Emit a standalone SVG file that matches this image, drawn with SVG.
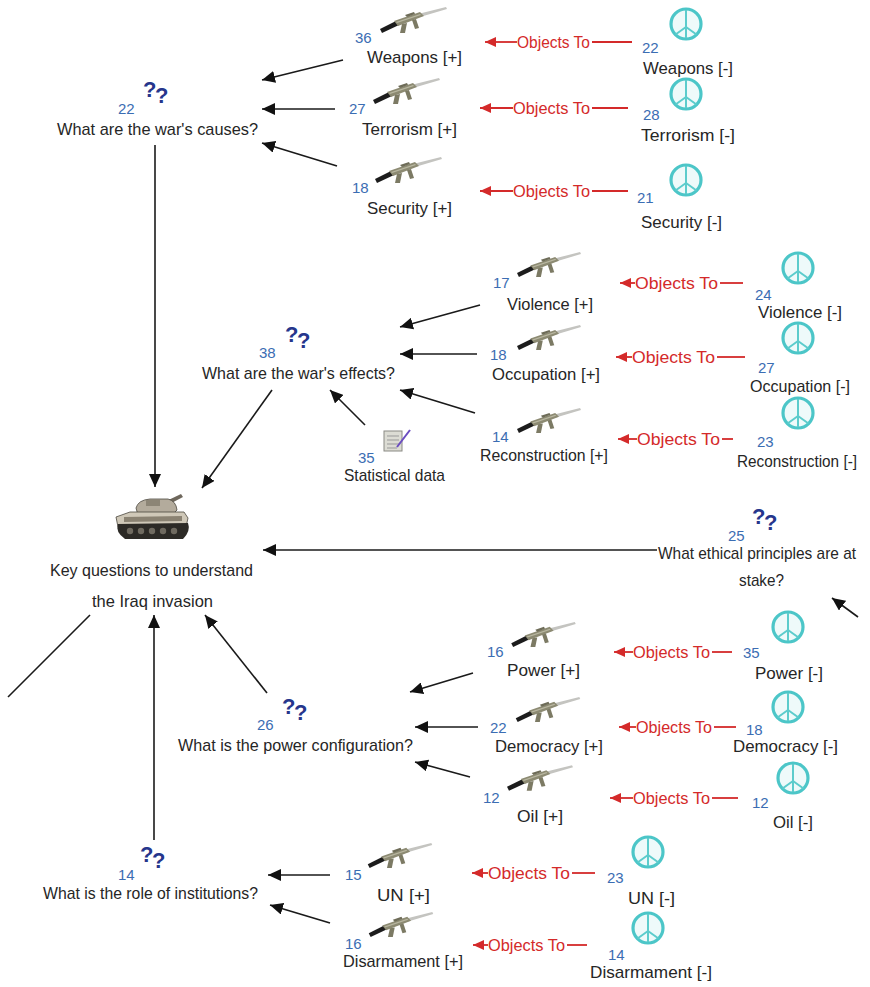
<svg xmlns="http://www.w3.org/2000/svg" xmlns:xlink="http://www.w3.org/1999/xlink" width="870" height="987" viewBox="0 0 870 987">
<style>
  text { font-family: "Liberation Sans", Arial, "DejaVu Sans", sans-serif; }
  .lbl { font-size: 17px; fill: #262626; }
  .num { font-size: 15px; fill: #3b6db3; }
  .obj { font-size: 17px; fill: #d42a2a; }
  .qq  { font-size: 22px; font-weight: bold; fill: #26368c; }
  .ln  { stroke: #1a1a1a; stroke-width: 1.6; fill: none; }
  .rl  { stroke: #d42a2a; stroke-width: 1.8; fill: none; }
</style>
<defs>
  <marker id="ah" markerUnits="userSpaceOnUse" markerWidth="14" markerHeight="12" refX="13" refY="6" orient="auto">
    <path d="M0,0 L13,6 L0,12 z" fill="#111"/>
  </marker>
  <marker id="ahr" markerUnits="userSpaceOnUse" markerWidth="12" markerHeight="10" refX="11" refY="5" orient="auto">
    <path d="M0,0 L11,5 L0,10 z" fill="#d42a2a"/>
  </marker>
  <!-- rifle icon, 67 x 27 -->
  <symbol id="gun" viewBox="0 0 67 27" overflow="visible">
    <polygon points="38,7 66,0 67,2 40,10" fill="#c4c4c0"/>
    <polygon points="0,22 16,14 19,18 2,26" fill="#1c1c1c"/>
    <polygon points="14,14 40,5 44,9 18,19" fill="#8c8a72"/>
    <polygon points="25,8 34,5 35,7 27,10" fill="#6e6c58"/>
    <polygon points="22,17 20,26 25,26 27,16" fill="#7c7a64"/>
    <polygon points="32,13 35,22 39,21 36,12" fill="#7c7a64"/>
    <polygon points="16,15 40,7 41,8 17,16" fill="#b8b6a0"/>
  </symbol>
  <!-- peace sign icon -->
  <symbol id="peace" viewBox="-18 -18 36 36" overflow="visible">
    <circle r="15" fill="#eefafa" stroke="#4cc6c8" stroke-width="3.2"/>
    <g stroke="#5ccccc" stroke-width="2">
      <line x1="0" y1="-14" x2="0" y2="14"/>
      <line x1="0" y1="3" x2="-10.5" y2="10.5"/>
      <line x1="0" y1="3" x2="10.5" y2="10.5"/>
    </g>
  </symbol>
  <!-- double question mark -->
  <symbol id="qmarks" viewBox="0 0 30 26" overflow="visible">
    <text class="qq" x="0" y="17">?</text>
    <text class="qq" x="12" y="23">?</text>
  </symbol>
</defs>

<!-- connectors -->
<g id="connectors">
  <line class="ln" x1="343" y1="60" x2="262" y2="80" marker-end="url(#ah)"/>
  <line class="ln" x1="335" y1="109" x2="262" y2="109" marker-end="url(#ah)"/>
  <line class="ln" x1="337" y1="166" x2="262" y2="143" marker-end="url(#ah)"/>
  <line class="ln" x1="155" y1="145" x2="155" y2="487" marker-end="url(#ah)"/>
  <line class="ln" x1="480" y1="305" x2="400" y2="327" marker-end="url(#ah)"/>
  <line class="ln" x1="477" y1="354" x2="400" y2="354" marker-end="url(#ah)"/>
  <line class="ln" x1="475" y1="413" x2="400" y2="390" marker-end="url(#ah)"/>
  <line class="ln" x1="365" y1="425" x2="330" y2="390" marker-end="url(#ah)"/>
  <line class="ln" x1="272" y1="390" x2="202" y2="488" marker-end="url(#ah)"/>
  <line class="ln" x1="657" y1="550" x2="263" y2="550" marker-end="url(#ah)"/>
  <line class="ln" x1="858" y1="617" x2="832" y2="598" marker-end="url(#ah)"/>
  <line class="ln" x1="90" y1="615" x2="8" y2="697"/>
  <line class="ln" x1="154" y1="840" x2="154" y2="615" marker-end="url(#ah)"/>
  <line class="ln" x1="267" y1="693" x2="205" y2="615" marker-end="url(#ah)"/>
  <line class="ln" x1="473" y1="673" x2="410" y2="692" marker-end="url(#ah)"/>
  <line class="ln" x1="478" y1="727" x2="415" y2="727" marker-end="url(#ah)"/>
  <line class="ln" x1="470" y1="777" x2="415" y2="762" marker-end="url(#ah)"/>
  <line class="ln" x1="330" y1="875" x2="268" y2="875" marker-end="url(#ah)"/>
  <line class="ln" x1="330" y1="923" x2="270" y2="905" marker-end="url(#ah)"/>

  <!-- "Objects To" links -->
  <g id="obj-weapons">
    <line class="rl" x1="517" y1="42" x2="485" y2="42" marker-end="url(#ahr)"/>
    <text class="obj" x="517" y="48" textLength="73" lengthAdjust="spacingAndGlyphs">Objects To</text>
    <line class="rl" x1="592" y1="42" x2="632" y2="42"/>
  </g>
  <g id="obj-terrorism">
    <line class="rl" x1="513" y1="108" x2="480" y2="108" marker-end="url(#ahr)"/>
    <text class="obj" x="513" y="114" textLength="77" lengthAdjust="spacingAndGlyphs">Objects To</text>
    <line class="rl" x1="592" y1="108" x2="628" y2="108"/>
  </g>
  <g id="obj-security">
    <line class="rl" x1="513" y1="191" x2="480" y2="191" marker-end="url(#ahr)"/>
    <text class="obj" x="513" y="197" textLength="77" lengthAdjust="spacingAndGlyphs">Objects To</text>
    <line class="rl" x1="592" y1="191" x2="628" y2="191"/>
  </g>
  <g id="obj-violence">
    <line class="rl" x1="635" y1="283" x2="620" y2="283" marker-end="url(#ahr)"/>
    <text class="obj" x="635" y="289" textLength="83" lengthAdjust="spacingAndGlyphs">Objects To</text>
    <line class="rl" x1="720" y1="283" x2="743" y2="283"/>
  </g>
  <g id="obj-occupation">
    <line class="rl" x1="632" y1="357" x2="616" y2="357" marker-end="url(#ahr)"/>
    <text class="obj" x="632" y="363" textLength="83" lengthAdjust="spacingAndGlyphs">Objects To</text>
    <line class="rl" x1="717" y1="357" x2="745" y2="357"/>
  </g>
  <g id="obj-reconstruction">
    <line class="rl" x1="637" y1="439" x2="618" y2="439" marker-end="url(#ahr)"/>
    <text class="obj" x="637" y="445" textLength="83" lengthAdjust="spacingAndGlyphs">Objects To</text>
    <line class="rl" x1="722" y1="439" x2="733" y2="439"/>
  </g>
  <g id="obj-power">
    <line class="rl" x1="633" y1="652" x2="614" y2="652" marker-end="url(#ahr)"/>
    <text class="obj" x="633" y="658" textLength="77" lengthAdjust="spacingAndGlyphs">Objects To</text>
    <line class="rl" x1="712" y1="652" x2="732" y2="652"/>
  </g>
  <g id="obj-democracy">
    <line class="rl" x1="636" y1="727" x2="619" y2="727" marker-end="url(#ahr)"/>
    <text class="obj" x="636" y="733" textLength="76" lengthAdjust="spacingAndGlyphs">Objects To</text>
    <line class="rl" x1="714" y1="727" x2="736" y2="727"/>
  </g>
  <g id="obj-oil">
    <line class="rl" x1="633" y1="798" x2="610" y2="798" marker-end="url(#ahr)"/>
    <text class="obj" x="633" y="804" textLength="77" lengthAdjust="spacingAndGlyphs">Objects To</text>
    <line class="rl" x1="712" y1="798" x2="738" y2="798"/>
  </g>
  <g id="obj-un">
    <line class="rl" x1="488" y1="873" x2="472" y2="873" marker-end="url(#ahr)"/>
    <text class="obj" x="488" y="879" textLength="82" lengthAdjust="spacingAndGlyphs">Objects To</text>
    <line class="rl" x1="572" y1="873" x2="595" y2="873"/>
  </g>
  <g id="obj-disarmament">
    <line class="rl" x1="488" y1="945" x2="473" y2="945" marker-end="url(#ahr)"/>
    <text class="obj" x="488" y="951" textLength="77" lengthAdjust="spacingAndGlyphs">Objects To</text>
    <line class="rl" x1="567" y1="945" x2="587" y2="945"/>
  </g>
</g>

<!-- question nodes -->
<g id="q-causes">
  <use href="#qmarks" x="143" y="80" width="30" height="26"/>
  <text class="num" x="118" y="114">22</text>
  <text class="lbl" x="57" y="135" textLength="201" lengthAdjust="spacingAndGlyphs">What are the war's causes?</text>
</g>
<g id="q-effects">
  <use href="#qmarks" x="285" y="325" width="30" height="26"/>
  <text class="num" x="259" y="358">38</text>
  <text class="lbl" x="202" y="379" textLength="193" lengthAdjust="spacingAndGlyphs">What are the war's effects?</text>
</g>
<g id="q-ethics">
  <use href="#qmarks" x="752" y="507" width="30" height="26"/>
  <text class="num" x="728" y="541">25</text>
  <text class="lbl" x="658" y="559" textLength="198" lengthAdjust="spacingAndGlyphs">What ethical principles are at</text>
  <text class="lbl" x="739" y="586" textLength="45" lengthAdjust="spacingAndGlyphs">stake?</text>
</g>
<g id="q-power">
  <use href="#qmarks" x="282" y="697" width="30" height="26"/>
  <text class="num" x="257" y="730">26</text>
  <text class="lbl" x="178" y="751" textLength="235" lengthAdjust="spacingAndGlyphs">What is the power configuration?</text>
</g>
<g id="q-institutions">
  <use href="#qmarks" x="140" y="845" width="30" height="26"/>
  <text class="num" x="118" y="880">14</text>
  <text class="lbl" x="43" y="899" textLength="215" lengthAdjust="spacingAndGlyphs">What is the role of institutions?</text>
</g>

<!-- central node -->
<g id="main">
  <g id="tank">
    <path d="M158,505 L181,494 L183,497 L162,508 z" fill="#6e675c"/>
    <path d="M136,508 Q138,500 150,499 L168,499 Q176,501 177,510 L172,515 L138,515 z" fill="#b3ab9c" stroke="#4a463e" stroke-width="0.8"/>
    <rect x="146" y="500" width="14" height="6" fill="#8c8576"/>
    <path d="M116,517 L130,512 L184,512 L188,518 L186,527 L118,527 z" fill="#cfc8b8" stroke="#4a463e" stroke-width="0.8"/>
    <path d="M124,517 L182,516 L182,521 L124,522 z" fill="#8a8272"/>
    <path d="M118,524 L188,523 Q191,531 183,539 L125,539 Q115,532 118,524 z" fill="#2c2a26"/>
    <g fill="#6f6a60">
      <circle cx="130" cy="531" r="3.2"/><circle cx="141" cy="531" r="3.2"/><circle cx="152" cy="531" r="3.2"/>
      <circle cx="163" cy="531" r="3.2"/><circle cx="174" cy="531" r="3.2"/>
    </g>
  </g>
  <text class="lbl" x="50" y="576" textLength="203" lengthAdjust="spacingAndGlyphs">Key questions to understand</text>
  <text class="lbl" x="92" y="607" textLength="121" lengthAdjust="spacingAndGlyphs">the Iraq invasion</text>
</g>

<!-- evidence node -->
<g id="stat-data">
  <rect x="384" y="431" width="18" height="20" fill="#dcdcd4" stroke="#8a8a84" stroke-width="1"/>
  <g stroke="#999" stroke-width="1">
    <line x1="387" y1="436" x2="399" y2="436"/><line x1="387" y1="440" x2="399" y2="440"/>
    <line x1="387" y1="444" x2="399" y2="444"/><line x1="387" y1="448" x2="397" y2="448"/>
  </g>
  <line x1="397" y1="447" x2="410" y2="430" stroke="#6a4cc0" stroke-width="2"/>
  <text class="num" x="358" y="463">35</text>
  <text class="lbl" x="344" y="481" textLength="101" lengthAdjust="spacingAndGlyphs">Statistical data</text>
</g>

<!-- pro arguments -->
<g id="pro-weapons">
  <use href="#gun" x="380" y="7" width="67" height="27"/>
  <text class="num" x="355" y="43">36</text>
  <text class="lbl" x="367" y="63" textLength="95" lengthAdjust="spacingAndGlyphs">Weapons [+]</text>
</g>
<g id="pro-terrorism">
  <use href="#gun" x="373" y="78" width="67" height="27"/>
  <text class="num" x="349" y="114">27</text>
  <text class="lbl" x="362" y="135" textLength="95" lengthAdjust="spacingAndGlyphs">Terrorism [+]</text>
</g>
<g id="pro-security">
  <use href="#gun" x="375" y="157" width="67" height="27"/>
  <text class="num" x="352" y="193">18</text>
  <text class="lbl" x="367" y="214" textLength="85" lengthAdjust="spacingAndGlyphs">Security [+]</text>
</g>
<g id="pro-violence">
  <use href="#gun" x="517" y="252" width="64" height="26"/>
  <text class="num" x="493" y="288">17</text>
  <text class="lbl" x="507" y="310" textLength="86" lengthAdjust="spacingAndGlyphs">Violence [+]</text>
</g>
<g id="pro-occupation">
  <use href="#gun" x="517" y="325" width="64" height="26"/>
  <text class="num" x="490" y="360">18</text>
  <text class="lbl" x="492" y="380" textLength="108" lengthAdjust="spacingAndGlyphs">Occupation [+]</text>
</g>
<g id="pro-reconstruction">
  <use href="#gun" x="517" y="408" width="64" height="26"/>
  <text class="num" x="492" y="442">14</text>
  <text class="lbl" x="480" y="461" textLength="128" lengthAdjust="spacingAndGlyphs">Reconstruction [+]</text>
</g>
<g id="pro-power">
  <use href="#gun" x="510" y="622" width="67" height="26"/>
  <text class="num" x="487" y="657">16</text>
  <text class="lbl" x="507" y="676" textLength="73" lengthAdjust="spacingAndGlyphs">Power [+]</text>
</g>
<g id="pro-democracy">
  <use href="#gun" x="515" y="697" width="66" height="26"/>
  <text class="num" x="490" y="733">22</text>
  <text class="lbl" x="495" y="752" textLength="108" lengthAdjust="spacingAndGlyphs">Democracy [+]</text>
</g>
<g id="pro-oil">
  <use href="#gun" x="507" y="765" width="66" height="27"/>
  <text class="num" x="483" y="803">12</text>
  <text class="lbl" x="517" y="822" textLength="46" lengthAdjust="spacingAndGlyphs">Oil [+]</text>
</g>
<g id="pro-un">
  <use href="#gun" x="367" y="843" width="66" height="26"/>
  <text class="num" x="345" y="880">15</text>
  <text class="lbl" x="377" y="901" textLength="53" lengthAdjust="spacingAndGlyphs">UN [+]</text>
</g>
<g id="pro-disarmament">
  <use href="#gun" x="368" y="912" width="66" height="26"/>
  <text class="num" x="345" y="949">16</text>
  <text class="lbl" x="343" y="967" textLength="120" lengthAdjust="spacingAndGlyphs">Disarmament [+]</text>
</g>

<!-- con arguments -->
<g id="con-weapons">
  <use href="#peace" x="668" y="6" width="36" height="36"/>
  <text class="num" x="642" y="53">22</text>
  <text class="lbl" x="643" y="74" textLength="90" lengthAdjust="spacingAndGlyphs">Weapons [-]</text>
</g>
<g id="con-terrorism">
  <use href="#peace" x="668" y="76" width="36" height="36"/>
  <text class="num" x="643" y="120">28</text>
  <text class="lbl" x="641" y="141" textLength="94" lengthAdjust="spacingAndGlyphs">Terrorism [-]</text>
</g>
<g id="con-security">
  <use href="#peace" x="668" y="162" width="36" height="36"/>
  <text class="num" x="637" y="203">21</text>
  <text class="lbl" x="641" y="228" textLength="81" lengthAdjust="spacingAndGlyphs">Security [-]</text>
</g>
<g id="con-violence">
  <use href="#peace" x="780" y="250" width="36" height="36"/>
  <text class="num" x="755" y="300">24</text>
  <text class="lbl" x="758" y="318" textLength="84" lengthAdjust="spacingAndGlyphs">Violence [-]</text>
</g>
<g id="con-occupation">
  <use href="#peace" x="780" y="320" width="36" height="36"/>
  <text class="num" x="758" y="373">27</text>
  <text class="lbl" x="750" y="392" textLength="100" lengthAdjust="spacingAndGlyphs">Occupation [-]</text>
</g>
<g id="con-reconstruction">
  <use href="#peace" x="780" y="395" width="36" height="36"/>
  <text class="num" x="757" y="447">23</text>
  <text class="lbl" x="737" y="467" textLength="120" lengthAdjust="spacingAndGlyphs">Reconstruction [-]</text>
</g>
<g id="con-power">
  <use href="#peace" x="770" y="609" width="36" height="36"/>
  <text class="num" x="743" y="658">35</text>
  <text class="lbl" x="755" y="679" textLength="68" lengthAdjust="spacingAndGlyphs">Power [-]</text>
</g>
<g id="con-democracy">
  <use href="#peace" x="770" y="689" width="36" height="36"/>
  <text class="num" x="746" y="735">18</text>
  <text class="lbl" x="733" y="752" textLength="105" lengthAdjust="spacingAndGlyphs">Democracy [-]</text>
</g>
<g id="con-oil">
  <use href="#peace" x="775" y="760" width="36" height="36"/>
  <text class="num" x="752" y="808">12</text>
  <text class="lbl" x="773" y="828" textLength="40" lengthAdjust="spacingAndGlyphs">Oil [-]</text>
</g>
<g id="con-un">
  <use href="#peace" x="630" y="834" width="36" height="36"/>
  <text class="num" x="607" y="883">23</text>
  <text class="lbl" x="628" y="904" textLength="47" lengthAdjust="spacingAndGlyphs">UN [-]</text>
</g>
<g id="con-disarmament">
  <use href="#peace" x="630" y="910" width="36" height="36"/>
  <text class="num" x="608" y="960">14</text>
  <text class="lbl" x="590" y="978" textLength="122" lengthAdjust="spacingAndGlyphs">Disarmament [-]</text>
</g>
</svg>
